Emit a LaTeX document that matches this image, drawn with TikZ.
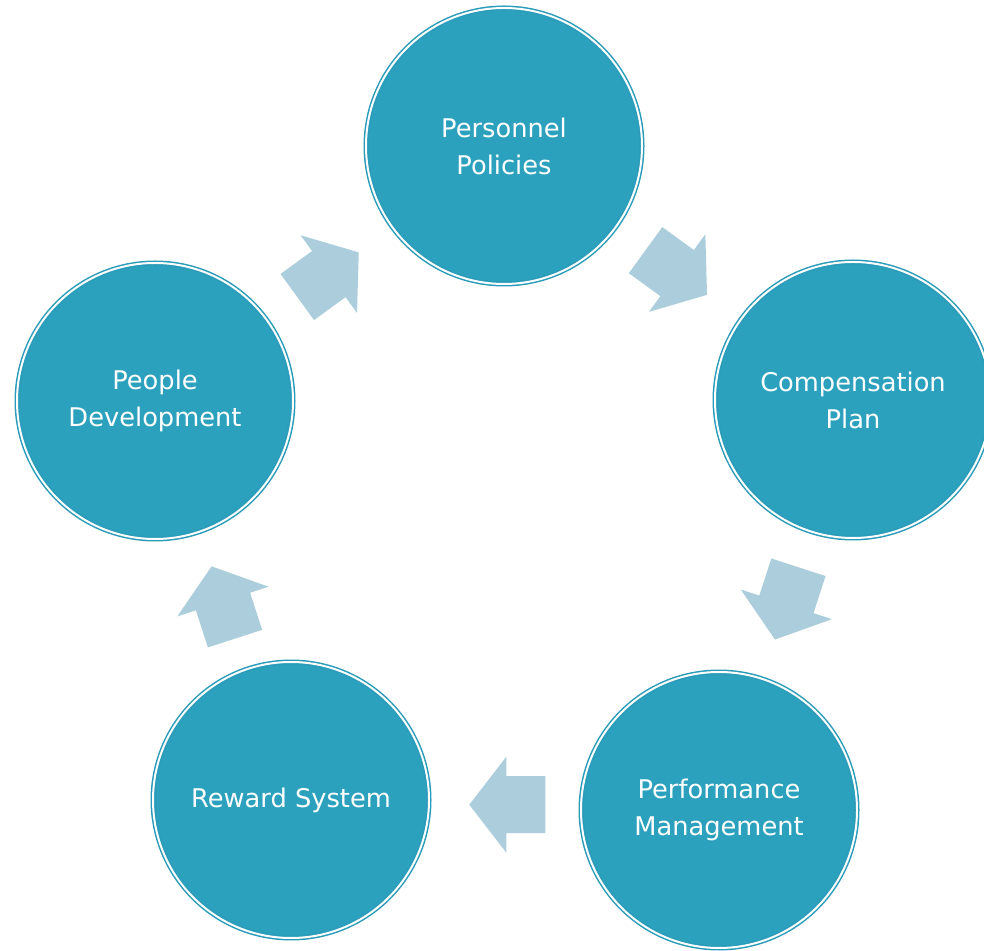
\documentclass[tikz,border=0pt]{standalone}
\usepackage{fontspec}
\setmainfont{DejaVu Sans}
\definecolor{discfill}{HTML}{2CA1BE}
\definecolor{discring}{HTML}{2A9BB8}
\definecolor{arrowfill}{HTML}{ACCEDC}
\tikzset{
	stage/.style={circle, fill=discfill, draw=discring, double=white,
		double distance=2pt, line width=1.5pt, minimum size=276pt,
		text=white, align=center, font=\fontsize{25.7}{37}\selectfont},
}
% block arrow: centre x, centre y, direction
\newcommand{\cyclearrow}[3]{%
	\begin{scope}[shift={(#1,#2)}, rotate=#3]
		\fill[arrowfill] (-38,-28.5) -- (1,-28.5) -- (1,-48) -- (38,0) --
		(1,48) -- (1,28.5) -- (-38,28.5) -- cycle;
	\end{scope}}
\begin{document}
\begin{tikzpicture}[x=1pt,y=1pt]
	\useasboundingbox (0,0) rectangle (984,950);
	\clip (0,0) rectangle (984,950);
	\path
	coordinate (c1) at (504,804)
	coordinate (c2) at (853,550)
	coordinate (c3) at (719,140)
	coordinate (c4) at (291,150)
	coordinate (c5) at (155,549)
	;
	\node[stage] (policies) at (c1) {Personnel\\Policies};
	\node[stage] (compensation) at (c2) {Compensation\\Plan};
	\node[stage] (performance) at (c3) {Performance\\Management};
	\node[stage] (reward) at (c4) {Reward System};
	\node[stage] (development) at (c5) {People\\Development};
	\cyclearrow{676.3}{677.5}{-36}
	\cyclearrow{786.7}{346.6}{-108}
	\cyclearrow{507.3}{145.3}{180}
	\cyclearrow{223.3}{347.5}{108}
	\cyclearrow{328}{675.3}{36}
\end{tikzpicture}
\end{document}
